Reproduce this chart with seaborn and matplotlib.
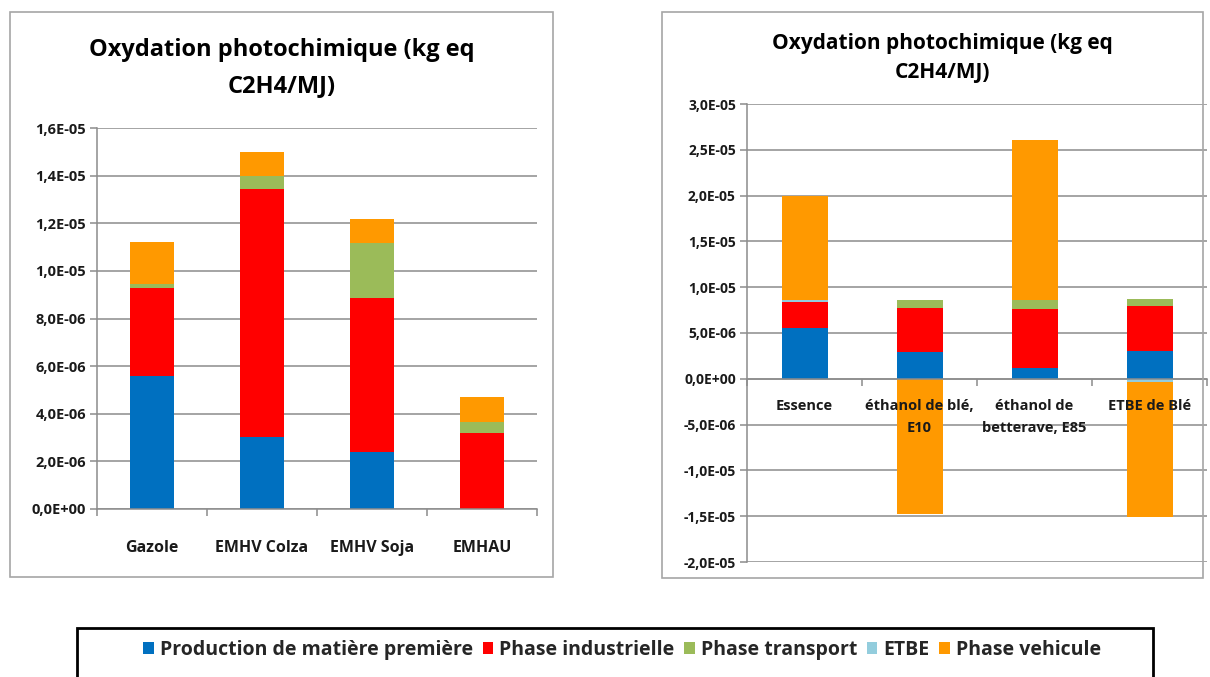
import numpy as np
import matplotlib
matplotlib.use("Agg")
import matplotlib.pyplot as plt
import seaborn as sns
from matplotlib.patches import Rectangle, Patch
from matplotlib.ticker import FuncFormatter, MultipleLocator, FixedLocator

# Series (stack order, bottom to top)
series = ["Production de matière première", "Phase industrielle",
          "Phase transport", "ETBE", "Phase vehicule"]
colors = ["#0070C0", "#FF0000", "#9BBB59", "#93CDDD", "#FF9900"]

# Left chart: diesel / biodiesel
cats_left = ["Gazole", "EMHV Colza", "EMHV Soja", "EMHAU"]
left_production = [5.60e-6, 3.04e-6, 2.39e-6, 0.0]
left_industrielle = [3.67e-6, 10.41e-6, 6.47e-6, 3.19e-6]
left_transport = [0.17e-6, 0.53e-6, 2.30e-6, 0.46e-6]
left_etbe = [0.0, 0.0, 0.0, 0.0]
left_vehicule = [1.76e-6, 1.01e-6, 1.02e-6, 1.04e-6]

# Right chart: gasoline / ethanol
cats_right = ["Essence", "éthanol de blé,\nE10", "éthanol de\nbetterave, E85", "ETBE de Blé"]
right_production = [5.60e-6, 2.93e-6, 1.13e-6, 3.04e-6]
right_industrielle = [2.75e-6, 4.83e-6, 6.44e-6, 4.90e-6]
right_transport = [0.05e-6, 0.88e-6, 1.06e-6, 0.81e-6]
right_etbe = [0.15e-6, 0.0, 0.0, -0.30e-6]
right_vehicule = [11.45e-6, -14.79e-6, 17.46e-6, -14.78e-6]

title = "Oxydation photochimique (kg eq\nC2H4/MJ)"

sns.set_theme(style="white")
plt.rcParams['font.family'] = ['Open Sans', 'DejaVu Sans']
plt.rcParams['font.weight'] = 'bold'

W, H = 1210, 677
fig = plt.figure(figsize=(W / 100, H / 100), dpi=100)
TXT = "#1a1a1a"


def px_box(x0, y0, x1, y1):
    return [x0 / W, 1 - y1 / H, (x1 - x0) / W, (y1 - y0) / H]


def sci_fr(v, pos):
    return f"{v:.1E}".replace(".", ",")


def stacked(ax, cats, layers):
    x = np.arange(len(cats))
    pos = np.zeros(len(cats))
    neg = np.zeros(len(cats))
    for vals, c in zip(layers, colors):
        vals = np.asarray(vals, dtype=float)
        bottom = np.where(vals >= 0, pos, neg)
        ax.bar(x, vals, bottom=bottom, width=0.4, color=c, linewidth=0, zorder=3)
        pos += np.clip(vals, 0, None)
        neg += np.clip(vals, None, 0)


def style_axes(ax, cats, step, tick_size, cat_size, cat_pad, cat_spacing):
    ax.set_xlim(-0.5, len(cats) - 0.5)
    ax.yaxis.set_major_locator(MultipleLocator(step))
    ax.yaxis.set_major_formatter(FuncFormatter(sci_fr))
    ax.grid(axis="y", color="#8c8c8c", linewidth=1.1, zorder=0)
    ax.grid(axis="x", visible=False)
    for s in ["top", "right"]:
        ax.spines[s].set_visible(False)
    for s in ["left", "bottom"]:
        ax.spines[s].set_color("#8c8c8c")
        ax.spines[s].set_linewidth(1.1)
        ax.spines[s].set_zorder(4)
    ax.set_xticks([])
    ax.xaxis.set_minor_locator(FixedLocator(np.arange(len(cats) + 1) - 0.5))
    ax.tick_params(axis="x", which="minor", bottom=True, length=5, width=1.1,
                   color="#8c8c8c", direction="out")
    ax.tick_params(axis="y", left=True, length=5, width=1.1, color="#8c8c8c",
                   labelsize=tick_size, pad=3)
    for lab in ax.get_yticklabels():
        lab.set_fontweight("bold")
        lab.set_color(TXT)
    # category names sit just under the zero line, drawn above the bars
    for i, name in enumerate(cats):
        ax.annotate(name, xy=(i, 0), xycoords="data", xytext=(0, -cat_pad),
                    textcoords="offset points", ha="center", va="top",
                    fontsize=cat_size, fontweight="bold", color=TXT,
                    linespacing=cat_spacing, zorder=6, annotation_clip=False)


# Panel frames
fig.add_artist(Rectangle((10 / W, 1 - 577 / H), 543 / W, 565 / H, transform=fig.transFigure,
                         fill=False, edgecolor="#a6a6a6", linewidth=1.2))
fig.add_artist(Rectangle((662 / W, 1 - 578 / H), 541 / W, 566 / H, transform=fig.transFigure,
                         fill=False, edgecolor="#a6a6a6", linewidth=1.2))

# Left chart
ax1 = fig.add_axes(px_box(97, 128, 537, 509))
stacked(ax1, cats_left, [left_production, left_industrielle, left_transport,
                         left_etbe, left_vehicule])
ax1.set_ylim(0, 1.6e-5)
style_axes(ax1, cats_left, 2e-6, 10.5, 11.5, 22, 1.3)
fig.text(282 / W, 1 - 68 / H, title, ha="center", va="center", fontsize=17,
         fontweight="bold", color="#000000", linespacing=1.65)

# Right chart
ax2 = fig.add_axes(px_box(747, 104, 1207, 562))
stacked(ax2, cats_right, [right_production, right_industrielle, right_transport,
                          right_etbe, right_vehicule])
ax2.set_ylim(-2e-5, 3e-5)
ax2.spines["bottom"].set_position(("data", 0))
style_axes(ax2, cats_right, 5e-6, 10, 10.5, 14.5, 1.75)
fig.text(942 / W, 1 - 58 / H, title, ha="center", va="center", fontsize=15,
         fontweight="bold", color="#000000", linespacing=1.55)

# Legend box
fig.add_artist(Rectangle((77 / W, 1 - 700 / H), 1076 / W, 72 / H, transform=fig.transFigure,
                         fill=False, edgecolor="#000000", linewidth=2))
handles = [Patch(facecolor=c, edgecolor="none") for c in colors]
fig.legend(handles, series, loc="center", bbox_to_anchor=(622 / W, 1 - 650 / H), ncol=5,
           frameon=False, handlelength=0.55, handleheight=0.55, handletextpad=0.3,
           columnspacing=0.5, prop={"weight": "bold", "size": 14},
           labelcolor="#262626")

fig.savefig("out.png", dpi=100)
